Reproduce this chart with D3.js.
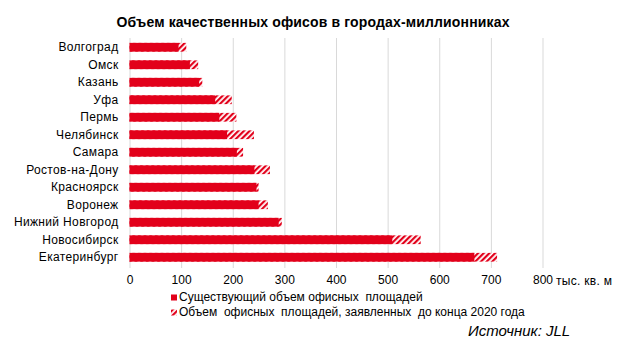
<!DOCTYPE html>
<html><head><meta charset="utf-8">
<script src="https://cdn.jsdelivr.net/npm/d3@7"></script>
<style>body{margin:0;background:#fff;} svg{display:block;font-family:"Liberation Sans",Arial,sans-serif;}</style>
</head><body><svg id="c" width="625" height="345"></svg>
<script>
const cities = ["Волгоград","Омск","Казань","Уфа","Пермь","Челябинск","Самара","Ростов-на-Дону","Красноярск","Воронеж","Нижний Новгород","Новосибирск","Екатеринбург"];
const existing = [95,117,135,166,174,189,208,242,246,250,289,509,668];
const total = [110,133,141,198,207,241,220,272,250,268,295,564,712];
const ticks = [0,100,200,300,400,500,600,700,800];
const title = "Объем качественных офисов в городах-миллионниках";
const legendLabels = ["Существующий объем офисных  площадей","Объем  офисных  площадей, заявленных  до конца 2020 года"];
const unit = "тыс. кв. м";
const source = "Источник: JLL";
const red = "#e2001a";

const svg = d3.select("#c");
const defs = svg.append("defs");
const pat = defs.append("pattern").attr("id","hatch").attr("patternUnits","userSpaceOnUse")
  .attr("width",4).attr("height",4).attr("patternTransform","rotate(45)");
pat.append("rect").attr("width",4).attr("height",4).attr("fill","#fff");
pat.append("rect").attr("x",0).attr("width",2.2).attr("height",4).attr("fill",red);

const x = d3.scaleLinear().domain([0,800]).range([129.5,542.5]);
const y = d3.scaleBand().domain(cities).range([38.5,266]).paddingInner(0.5).paddingOuter(0.25);

svg.append("text").attr("x",313).attr("y",27).attr("text-anchor","middle")
  .attr("font-weight","bold").attr("font-size",14).attr("letter-spacing",0.15).text(title);

svg.append("g").selectAll("line").data(ticks).join("line")
  .attr("x1",d=>x(d)+0.5).attr("x2",d=>x(d)+0.5).attr("y1",38).attr("y2",268)
  .attr("stroke","#d9d9d9").attr("stroke-width",1);

svg.append("g").selectAll("rect").data(cities).join("rect")
  .attr("x",x(0)).attr("y",d=>y(d)).attr("height",y.bandwidth())
  .attr("width",(d,i)=>x(total[i])-x(0)).attr("fill","url(#hatch)");
svg.append("g").selectAll("rect").data(cities).join("rect")
  .attr("x",x(0)).attr("y",d=>y(d)).attr("height",y.bandwidth())
  .attr("width",(d,i)=>x(existing[i])-x(0)).attr("fill",red);

const yAxis = d3.axisLeft(y).tickSize(0).tickPadding(11);
const gy = svg.append("g").attr("transform",`translate(${x(0)},0)`).call(yAxis);
gy.select(".domain").remove();
gy.selectAll("text").attr("font-size",12).attr("letter-spacing",0.35).attr("font-family","Liberation Sans, Arial, sans-serif").attr("fill","#000");

const xAxis = d3.axisBottom(x).tickValues(ticks).tickSize(0).tickPadding(0).tickFormat(d3.format("d"));
const gx = svg.append("g").attr("transform","translate(0,275.5)").call(xAxis);
gx.select(".domain").remove();
gx.selectAll("text").attr("font-size",12).attr("font-family","Liberation Sans, Arial, sans-serif").attr("fill","#000");

svg.append("text").attr("x",556).attr("y",285).attr("font-size",12).attr("letter-spacing",0.3).text(unit);

const lg = svg.append("g");
lg.append("rect").attr("x",171).attr("y",294.5).attr("width",6).attr("height",6).attr("fill",red);
lg.append("rect").attr("x",171).attr("y",309.5).attr("width",6).attr("height",6).attr("fill","url(#hatch)");
lg.selectAll("text").data(legendLabels).join("text")
  .attr("x",179).attr("y",(d,i)=>301+i*15).attr("font-size",12).style("white-space","pre").attr("xml:space","preserve").text(d=>d);

svg.append("text").attr("x",468).attr("y",336).attr("font-size",15).attr("font-style","italic").text(source);
</script></body></html>
